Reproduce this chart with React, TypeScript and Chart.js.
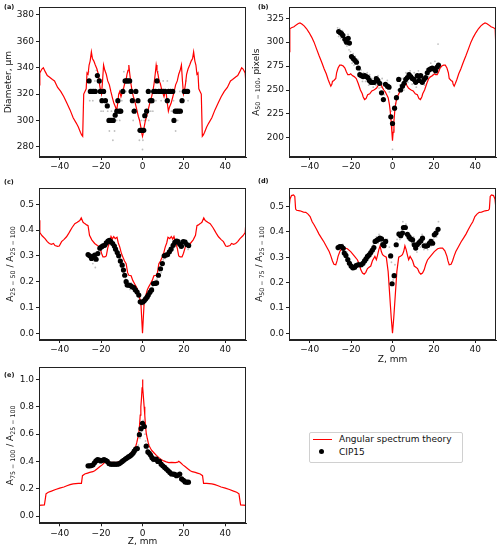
import React, { useEffect, useRef } from "react";
import { Chart, registerables } from "chart.js";
Chart.register(...registerables);

type Pt = [number, number];
type Seg = [string, number]; // text, 1 = subscript
const FONT = "'DejaVu Sans', sans-serif";

// ---------- ticks ----------
const zTicks = [-40, -20, 0, 20, 40];
const aYTicks = [280, 300, 320, 340, 360, 380];
const bYTicks = [200, 225, 250, 275, 300, 325];
const cYTicks = [0, 0.1, 0.2, 0.3, 0.4, 0.5];
const dYTicks = [0, 0.1, 0.2, 0.3, 0.4, 0.5];
const eYTicks = [0, 0.2, 0.4, 0.6, 0.8, 1.0];

// ---------- axis titles ----------
const aYTitle: Seg[] = [["Diameter, \u00b5m", 0]];
const bYTitle: Seg[] = [["A", 0], ["50 \u2212 100", 1], [", pixels", 0]];
const cYTitle: Seg[] = [["A", 0], ["25 \u2212 50", 1], [" / A", 0], ["25 \u2212 100", 1]];
const dYTitle: Seg[] = [["A", 0], ["50 \u2212 75", 1], [" / A", 0], ["25 \u2212 100", 1]];
const eYTitle: Seg[] = [["A", 0], ["75 \u2212 100", 1], [" / A", 0], ["25 \u2212 100", 1]];

// ---------- (a) Diameter ----------
const aTheory: Pt[] = [
  [-50, 327], [-49.6, 336], [-48.6, 339], [-47.9, 340], [-47, 337], [-46, 334], [-45, 333], [-43.5, 331], [-42.5, 330],
  [-41, 325], [-39.5, 322], [-38, 318], [-36.5, 313], [-35, 308], [-33.5, 302], [-32, 298], [-31, 295], [-30, 291],
  [-29.4, 289], [-28.9, 288], [-28.4, 320], [-27.8, 322], [-27.2, 324], [-26.8, 336], [-26.3, 335], [-25.8, 342],
  [-25.3, 345], [-24.7, 352], [-24.2, 347], [-23.5, 345], [-22.8, 342], [-22, 339], [-21.3, 335], [-20.8, 328],
  [-20.2, 322], [-19.8, 320], [-19.3, 330], [-18.8, 342], [-18.2, 338], [-17.5, 335], [-16.8, 330], [-16, 327],
  [-15.3, 322], [-14.5, 317], [-13.8, 313], [-13, 310], [-12.5, 307], [-12, 313], [-11.5, 320], [-11, 322], [-10.4, 318],
  [-9.8, 321], [-9.2, 324], [-8.6, 328], [-8, 330], [-7.5, 335], [-7, 338], [-6.6, 342], [-6.2, 336], [-5.6, 328],
  [-5, 322], [-4.4, 318], [-3.8, 315], [-3.2, 311], [-2.6, 307], [-2, 303], [-1.4, 300], [-0.8, 295], [-0.3, 290], [0, 288],
  [0.3, 290], [0.8, 295], [1.4, 300], [2, 303], [2.6, 307], [3.2, 311], [3.8, 315], [4.4, 318], [5, 322], [5.6, 328],
  [6.2, 336], [6.6, 342], [7, 338], [7.5, 335], [8, 330], [8.6, 328], [9.2, 324], [9.8, 321], [10.4, 318], [11, 322],
  [11.5, 320], [12, 313], [12.5, 307], [13, 310], [13.8, 313], [14.5, 317], [15.3, 322], [16, 327], [16.8, 330],
  [17.5, 335], [18.2, 338], [18.8, 342], [19.3, 330], [19.8, 320], [20.2, 322], [20.8, 328], [21.3, 335], [22, 339],
  [22.8, 342], [23.5, 345], [24.2, 347], [24.7, 352], [25.3, 345], [25.8, 342], [26.3, 335], [26.8, 336], [27.2, 324],
  [27.8, 322], [28.4, 320], [28.9, 288], [29.4, 289], [30, 291], [31, 295], [32, 298], [33.5, 302], [35, 308],
  [36.5, 313], [38, 318], [39.5, 322], [41, 325], [42.5, 330], [43.5, 331], [45, 333], [46, 334], [47, 337],
  [47.9, 340], [48.6, 339], [49.6, 336], [50, 327],
];
const aDots: Pt[] = [
  [-25.8, 330], [-25.2, 322], [-24.4, 322], [-23.6, 322], [-22.8, 322], [-21.8, 334], [-20.9, 330], [-20.4, 322],
  [-19.6, 315], [-18.8, 322], [-17.9, 315], [-17.0, 311], [-16.2, 300], [-15.5, 300], [-14.8, 300], [-14.1, 300],
  [-13.2, 304], [-12.4, 307], [-11.9, 315], [-11.2, 307], [-10.5, 307], [-9.5, 322], [-8.4, 330], [-7.7, 330],
  [-7.0, 330], [-6.2, 330], [-5.5, 322], [-4.9, 315], [-4.0, 307], [-3.2, 322], [-2.2, 315], [-1.2, 292.5],
  [-0.6, 292.5], [0, 292.5], [0.6, 292.5], [1.1, 303.6], [2.0, 307], [2.8, 322], [3.8, 315], [4.6, 315], [5.4, 322],
  [6.3, 322], [7.0, 330], [7.8, 322], [8.6, 322], [9.4, 322], [10.2, 322], [11.0, 322], [12.0, 315], [12.6, 322],
  [13.6, 322], [14.6, 322], [15.2, 300], [15.8, 307], [16.6, 307], [17.4, 307], [18.3, 307], [19.1, 315], [20.2, 322],
  [21.0, 322], [21.8, 322],
];
const aRaw: Pt[] = [
  [-26, 337], [-25.5, 315], [-24, 315], [-23, 330], [-22.3, 338], [-21.5, 322], [-20, 307], [-19, 307], [-18, 322],
  [-16.8, 307], [-16, 292], [-15, 307], [-14.3, 285], [-13.5, 292], [-12.5, 300], [-11, 300], [-10, 315], [-9, 337],
  [-8, 322], [-7, 337], [-6, 322], [-5, 307], [-4.5, 300], [-3.5, 315], [-2.5, 307], [-1.5, 285], [-0.5, 300], [0, 278],
  [0.2, 285], [0.8, 300], [1.5, 300], [2.5, 315], [3, 300], [4, 307], [5, 307], [6, 330], [6.5, 315], [7.5, 337],
  [8.2, 330], [9, 315], [10, 330], [11, 315], [12, 330], [13, 315], [14, 307], [15, 315], [16, 292], [17, 300],
  [18, 322], [19, 307], [20, 315], [21, 330], [22, 315],
];

// ---------- (b) A50-100 ----------
const bTheory: Pt[] = [
  [-50, 290], [-49.6, 314], [-48.8, 315], [-47.6, 316], [-46.5, 318], [-45.5, 319.5], [-44.7, 320], [-43.8, 319],
  [-42.7, 317], [-41.5, 314], [-40.3, 310], [-39, 305], [-37.9, 300], [-36.7, 293], [-35.5, 286], [-34.2, 279],
  [-33, 272], [-32, 267], [-31.1, 261], [-30.4, 257], [-29.8, 254], [-29.3, 256], [-29, 259], [-28.3, 260],
  [-27.4, 262], [-27, 268], [-26.3, 273], [-25.5, 276], [-24.7, 276], [-23.8, 275], [-23, 273], [-22.3, 269],
  [-21.6, 266], [-20.8, 266], [-20.2, 267], [-19.4, 265], [-18.5, 264], [-17.5, 262], [-16.6, 257], [-15.5, 250],
  [-14.6, 246], [-14.2, 243], [-13.5, 240], [-12.8, 241], [-12, 245], [-11, 246], [-10, 249], [-9, 250], [-8.3, 251],
  [-7.7, 252], [-6.9, 255], [-6.1, 259], [-5.5, 256], [-5, 253], [-4.2, 250], [-3.5, 248], [-2.8, 245], [-2.1, 242],
  [-1.5, 235], [-1.1, 228], [-0.7, 218], [-0.3, 206], [0, 197],
  [0.3, 206], [0.7, 218], [1.1, 228], [1.5, 235], [2.1, 242], [2.8, 245], [3.5, 248], [4.2, 250], [5, 253], [5.5, 256],
  [6.1, 259], [6.9, 255], [7.7, 252], [8.3, 251], [9, 250], [10, 249], [11, 246], [12, 245], [12.8, 241], [13.5, 240],
  [14.2, 243], [14.6, 246], [15.5, 250], [16.6, 257], [17.5, 262], [18.5, 264], [19.4, 265], [20.2, 267], [20.8, 266],
  [21.6, 266], [22.3, 269], [23, 273], [23.8, 275], [24.7, 276], [25.5, 276], [26.3, 273], [27, 268], [27.4, 262],
  [28.3, 260], [29, 259], [29.3, 256], [29.8, 254], [30.4, 257], [31.1, 261], [32, 267], [33, 272], [34.2, 279],
  [35.5, 286], [36.7, 293], [37.9, 300], [39, 305], [40.3, 310], [41.5, 314], [42.7, 317], [43.8, 319], [44.7, 320],
  [45.5, 319.5], [46.5, 318], [47.6, 316], [48.8, 315], [49.6, 314], [50, 290],
];
const bDots: Pt[] = [
  [-26, 311], [-25.3, 310], [-24.6, 309], [-24, 307], [-23, 303], [-22.2, 300], [-21.4, 304], [-20.8, 299], [-19.8, 285],
  [-19, 283], [-18.2, 281], [-17.4, 279], [-16.5, 273], [-15.8, 266], [-15, 265], [-14.2, 264], [-13.4, 265],
  [-12.6, 264], [-11.9, 263], [-11.2, 260], [-10.4, 258], [-9.6, 258], [-8.8, 258], [-7.8, 262], [-7.1, 260],
  [-6.2, 257], [-5.3, 247], [-4.4, 240], [-3.4, 256], [-2.4, 254], [-1.7, 253], [-0.8, 222], [0, 215], [1, 231],
  [1.9, 242], [3, 261], [3.9, 250], [4.8, 254], [5.6, 257], [6.4, 261], [7.2, 263], [8, 266], [8.8, 264], [9.6, 262],
  [10.4, 261], [11.2, 258], [12, 265], [12.8, 260], [13.6, 265], [14.4, 258], [15.2, 261], [16, 263], [16.8, 268],
  [17.6, 271], [18.4, 272], [19.2, 273], [20, 272], [20.8, 270], [21.6, 274], [22.2, 276],
];
const bRaw: Pt[] = [
  [-26.5, 315], [-26, 306], [-25.5, 314], [-25, 304], [-24.2, 312], [-23.5, 300], [-23, 308], [-22, 296], [-21.5, 308],
  [-21, 292], [-20.3, 290], [-19.5, 278], [-19, 288], [-18.6, 276], [-18, 285], [-17.2, 274], [-16.8, 282], [-16, 270],
  [-15.2, 271], [-14.5, 259], [-14, 268], [-13, 259], [-12.2, 268], [-11.5, 255], [-11, 266], [-10, 262], [-9.3, 253],
  [-8.5, 264], [-8, 255], [-7, 265], [-6.5, 252], [-5.5, 253], [-5, 262], [-4, 245], [-3, 252], [-2.5, 260],
  [-1.5, 248], [-0.5, 228], [0, 188], [0.5, 208], [1.5, 236], [2.5, 250], [3.5, 255], [4.5, 262], [5.5, 250],
  [6.5, 268], [7.5, 258], [8.5, 270], [9.5, 256], [10.5, 268], [11.5, 253], [12.5, 270], [13.5, 257], [14.5, 266],
  [15.5, 255], [16.5, 272], [17.5, 264], [18.5, 278], [19.5, 266], [20.5, 280], [21.5, 268], [22, 298],
];

// ---------- (c) A25-50 / A25-100 ----------
const cTheory: Pt[] = [
  [-50, 0.438], [-49.6, 0.39], [-48.5, 0.378], [-47.1, 0.367], [-46, 0.355], [-45, 0.348], [-44, 0.345], [-43, 0.348],
  [-42.3, 0.34], [-41, 0.337], [-40.2, 0.338], [-39.1, 0.355], [-38, 0.363], [-36.7, 0.374], [-35.8, 0.385],
  [-35.1, 0.395], [-34, 0.41], [-32.7, 0.425], [-31.5, 0.43], [-30.3, 0.437], [-29.6, 0.447], [-28.7, 0.43],
  [-27.9, 0.425], [-27, 0.42], [-26.3, 0.417], [-25.6, 0.38], [-24.5, 0.362], [-23.1, 0.348], [-21.8, 0.34],
  [-20.7, 0.335], [-19.8, 0.31], [-19.1, 0.296], [-18.2, 0.296], [-17.5, 0.3], [-16.8, 0.33], [-15.9, 0.354],
  [-15.2, 0.375], [-14.6, 0.365], [-13.9, 0.375], [-13.2, 0.367], [-12.3, 0.372], [-11.7, 0.35], [-11, 0.335],
  [-10.2, 0.31], [-9.5, 0.296], [-8.7, 0.28], [-7.9, 0.27], [-7.2, 0.235], [-6.6, 0.225], [-5.5, 0.223], [-4.7, 0.205],
  [-3.9, 0.193], [-3, 0.18], [-2.3, 0.168], [-1.7, 0.15], [-1.2, 0.13], [-0.8, 0.12], [0, 0],
  [0.8, 0.12], [1.2, 0.13], [1.7, 0.15], [2.3, 0.168], [3, 0.18], [3.9, 0.193], [4.7, 0.205], [5.5, 0.223],
  [6.6, 0.225], [7.2, 0.235], [7.9, 0.27], [8.7, 0.28], [9.5, 0.296], [10.2, 0.31], [11, 0.335], [11.7, 0.35],
  [12.3, 0.372], [13.2, 0.367], [13.9, 0.375], [14.6, 0.365], [15.2, 0.375], [15.9, 0.354], [16.8, 0.33], [17.5, 0.3],
  [18.2, 0.296], [19.1, 0.296], [19.8, 0.31], [20.7, 0.335], [21.8, 0.34], [23.1, 0.348], [24.5, 0.362], [25.6, 0.38],
  [26.3, 0.417], [27, 0.42], [27.9, 0.425], [28.7, 0.43], [29.6, 0.447], [30.3, 0.437], [31.5, 0.43], [32.7, 0.425],
  [34, 0.41], [35.1, 0.395], [35.8, 0.385], [36.7, 0.374], [38, 0.363], [39.1, 0.355], [40.2, 0.338], [41, 0.337],
  [42.3, 0.34], [43, 0.348], [44, 0.345], [45, 0.348], [46, 0.355], [47.1, 0.367], [48.5, 0.378], [49.6, 0.39],
  [50, 0.438],
];
const cDots: Pt[] = [
  [-26.3, 0.305], [-25.5, 0.3], [-24.6, 0.29], [-23.8, 0.298], [-23.1, 0.303], [-22.4, 0.287], [-21.6, 0.309],
  [-20.6, 0.33], [-19.8, 0.335], [-19.1, 0.339], [-18.3, 0.341], [-17.5, 0.35], [-16.7, 0.357], [-16, 0.36],
  [-15.3, 0.355], [-14.4, 0.348], [-13.6, 0.338], [-13, 0.326], [-12.2, 0.313], [-11.5, 0.3], [-10.7, 0.28],
  [-9.8, 0.264], [-9.2, 0.245], [-8.6, 0.225], [-7.9, 0.2], [-7.4, 0.187], [-6.6, 0.187], [-5.8, 0.185], [-5, 0.18],
  [-4.2, 0.177], [-3.4, 0.168], [-2.6, 0.16], [-1.8, 0.148], [-1.1, 0.122], [-0.4, 0.12], [0.3, 0.122], [0.9, 0.127],
  [1.5, 0.133], [2.2, 0.14], [2.8, 0.148], [3.6, 0.159], [4.4, 0.168], [5.3, 0.193], [6.1, 0.193], [6.8, 0.195],
  [7.7, 0.225], [8.7, 0.25], [9.6, 0.27], [10.5, 0.3], [11.3, 0.303], [12.1, 0.305], [13, 0.316], [13.8, 0.326],
  [14.8, 0.341], [15.6, 0.352], [16.4, 0.357], [17.2, 0.355], [18, 0.345], [18.8, 0.337], [19.7, 0.355],
  [20.6, 0.353], [21.4, 0.344], [22.3, 0.34],
];
const cRaw: Pt[] = [
  [-26, 0.31], [-25.2, 0.285], [-24.5, 0.3], [-24, 0.27], [-23.3, 0.28], [-22.8, 0.255], [-22, 0.3], [-21, 0.315],
  [-20, 0.32], [-19, 0.33], [-18, 0.35], [-17, 0.34], [-16, 0.345], [-15, 0.365], [-14, 0.33], [-13, 0.34], [-12, 0.3],
  [-11, 0.29], [-10, 0.25], [-9.5, 0.27], [-8.2, 0.21], [-7, 0.2], [-6, 0.17], [-5.5, 0.195], [-4.5, 0.165],
  [-3.5, 0.18], [-2.5, 0.15], [-1.5, 0.135], [-0.8, 0.11], [0.5, 0.11], [1.2, 0.14], [2, 0.13], [3, 0.165], [4, 0.15],
  [5, 0.18], [6, 0.205], [7, 0.21], [8, 0.24], [9, 0.235], [10, 0.285], [11, 0.29], [12, 0.315], [13, 0.3],
  [14, 0.335], [15, 0.33], [16, 0.345], [17, 0.365], [18, 0.33], [19, 0.345], [20, 0.34], [21, 0.36], [22, 0.325],
  [22.5, 0.35],
];

// ---------- (d) A50-75 / A25-100 ----------
const dTheory: Pt[] = [
  [-50, 0.49], [-49.5, 0.53], [-48.8, 0.543], [-47.8, 0.546], [-47.2, 0.54], [-46.8, 0.49], [-46.3, 0.485],
  [-44.7, 0.483], [-43, 0.478], [-41.9, 0.477], [-40.8, 0.47], [-39.8, 0.46], [-38.8, 0.44], [-37.9, 0.428],
  [-36.7, 0.41], [-35.5, 0.391], [-34.3, 0.375], [-33.1, 0.36], [-31.8, 0.34], [-30.6, 0.322], [-29.8, 0.305],
  [-29, 0.285], [-28.3, 0.272], [-27.4, 0.27], [-26.8, 0.285], [-26.3, 0.303], [-25.3, 0.325], [-24.2, 0.336],
  [-23, 0.336], [-21.8, 0.333], [-20.2, 0.322], [-18.5, 0.305], [-16.9, 0.289], [-16, 0.27], [-15.3, 0.25],
  [-14.5, 0.237], [-13.7, 0.233], [-12.9, 0.24], [-12.1, 0.255], [-11.3, 0.26], [-10.5, 0.265], [-9.7, 0.286],
  [-8.5, 0.303], [-7.8, 0.29], [-7.3, 0.305], [-6.6, 0.33], [-6, 0.345], [-5.4, 0.322], [-4.8, 0.31], [-4, 0.305],
  [-3, 0.3], [-2.1, 0.243], [-1.3, 0.145], [-0.6, 0.06], [0, 0],
  [0.6, 0.06], [1.3, 0.145], [2.1, 0.243], [3, 0.3], [4, 0.305], [4.8, 0.31], [5.4, 0.322], [6, 0.345], [6.6, 0.33],
  [7.3, 0.305], [7.8, 0.29], [8.5, 0.303], [9.7, 0.286], [10.5, 0.265], [11.3, 0.26], [12.1, 0.255], [12.9, 0.24],
  [13.7, 0.233], [14.5, 0.237], [15.3, 0.25], [16, 0.27], [16.9, 0.289], [18.5, 0.305], [20.2, 0.322], [21.8, 0.333],
  [23, 0.336], [24.2, 0.336], [25.3, 0.325], [26.3, 0.303], [26.8, 0.285], [27.4, 0.27], [28.3, 0.272], [29, 0.285],
  [29.8, 0.305], [30.6, 0.322], [31.8, 0.34], [33.1, 0.36], [34.3, 0.375], [35.5, 0.391], [36.7, 0.41],
  [37.9, 0.428], [38.8, 0.44], [39.8, 0.46], [40.8, 0.47], [41.9, 0.477], [43, 0.478], [44.7, 0.483], [46.3, 0.485],
  [46.8, 0.49], [47.2, 0.54], [47.8, 0.546], [48.8, 0.543], [49.5, 0.53], [50, 0.49],
];
const dDots: Pt[] = [
  [-26.3, 0.338], [-25.5, 0.342], [-24.6, 0.342], [-23.8, 0.335], [-23.3, 0.316], [-22.5, 0.307], [-21.6, 0.29],
  [-20.8, 0.276], [-20, 0.265], [-19.2, 0.258], [-18.3, 0.26], [-17.6, 0.267], [-16.7, 0.27], [-15.9, 0.27],
  [-15.1, 0.27], [-14.3, 0.276], [-13.5, 0.285], [-12.8, 0.293], [-12.1, 0.303], [-11.3, 0.309], [-10.5, 0.318],
  [-9.7, 0.328], [-9, 0.338], [-8.4, 0.362], [-7.6, 0.366], [-6.9, 0.37], [-6.1, 0.375], [-5.3, 0.372], [-4.7, 0.35],
  [-4.1, 0.345], [-3.3, 0.362], [-0.9, 0.305], [-0.2, 0.195], [0.8, 0.227], [1.8, 0.349], [3.1, 0.391], [4, 0.385],
  [4.8, 0.395], [5.3, 0.417], [6.2, 0.417], [7.2, 0.39], [8, 0.38], [8.8, 0.372], [9.7, 0.368], [10.5, 0.349],
  [11.2, 0.336], [12, 0.35], [12.8, 0.357], [13.7, 0.364], [14.5, 0.375], [15.3, 0.345], [16.2, 0.343], [17, 0.346],
  [17.8, 0.355], [18.6, 0.362], [19.4, 0.355], [20.2, 0.388], [21, 0.395], [22, 0.41],
];
const dRaw: Pt[] = [
  [-26.5, 0.33], [-25.8, 0.345], [-25, 0.33], [-24, 0.35], [-23.5, 0.33], [-23, 0.3], [-22, 0.32], [-21.2, 0.28],
  [-20.5, 0.26], [-19.5, 0.27], [-18.5, 0.25], [-17.5, 0.255], [-16.5, 0.28], [-15.5, 0.26], [-14.5, 0.285],
  [-13.5, 0.27], [-12.5, 0.3], [-11.5, 0.295], [-10.8, 0.33], [-10, 0.31], [-9.2, 0.35], [-8.5, 0.33], [-7.8, 0.38],
  [-7, 0.355], [-6.5, 0.39], [-5.5, 0.36], [-4.5, 0.365], [-3.5, 0.34], [-2.5, 0.37], [-1.5, 0.34], [-0.5, 0.28],
  [0.3, 0.21], [1.2, 0.27], [2.2, 0.37], [2.8, 0.4], [3.6, 0.37], [4.3, 0.41], [5, 0.44], [5.8, 0.4], [6.5, 0.43],
  [7.5, 0.37], [8.5, 0.39], [9.3, 0.355], [10.2, 0.38], [11, 0.35], [11.8, 0.32], [12.8, 0.37], [13.5, 0.34],
  [14.3, 0.39], [15.2, 0.33], [16, 0.355], [17, 0.33], [18, 0.37], [18.8, 0.345], [19.8, 0.37], [20.5, 0.4],
  [21.3, 0.38], [22.2, 0.44],
];

// ---------- (e) A75-100 / A25-100 ----------
const eTheory: Pt[] = [
  [-50, 0.079], [-47.4, 0.082], [-47, 0.12], [-46.6, 0.163], [-45.5, 0.175], [-44, 0.183], [-42, 0.195], [-40, 0.205],
  [-38, 0.213], [-36.5, 0.222], [-35, 0.23], [-33.5, 0.236], [-31, 0.24], [-29.5, 0.24], [-29, 0.296], [-27.9, 0.308],
  [-26.5, 0.315], [-25.5, 0.32], [-24, 0.325], [-23.1, 0.332], [-22, 0.345], [-20.7, 0.361], [-19.5, 0.375],
  [-18.3, 0.392], [-17.5, 0.402], [-17, 0.395], [-15.9, 0.392], [-14, 0.393], [-12.7, 0.392], [-11.5, 0.397],
  [-10.3, 0.404], [-9, 0.415], [-7.9, 0.428], [-6.7, 0.445], [-5.5, 0.464], [-4.5, 0.48], [-3.9, 0.495],
  [-3.2, 0.515], [-2.8, 0.536], [-2.3, 0.57], [-1.8, 0.608], [-1.4, 0.67], [-1.1, 0.74], [-0.8, 0.8], [-0.5, 0.86],
  [-0.2, 0.94], [0, 1.0],
  [0.2, 0.94], [0.5, 0.86], [0.8, 0.8], [1.1, 0.74], [1.4, 0.67], [1.8, 0.608], [2.3, 0.57], [2.8, 0.536],
  [3.2, 0.515], [3.9, 0.495], [4.5, 0.48], [5.5, 0.464], [6.7, 0.445], [7.9, 0.428], [9, 0.415], [10.3, 0.404],
  [11.5, 0.397], [12.7, 0.392], [14, 0.393], [15.9, 0.392], [17, 0.395], [17.5, 0.402], [18.3, 0.392], [19.5, 0.375],
  [20.7, 0.361], [22, 0.345], [23.1, 0.332], [24, 0.325], [25.5, 0.32], [26.5, 0.315], [27.9, 0.308], [29, 0.296],
  [29.5, 0.24], [31, 0.24], [33.5, 0.236], [35, 0.23], [36.5, 0.222], [38, 0.213], [40, 0.205], [42, 0.195],
  [44, 0.183], [45.5, 0.175], [46.6, 0.163], [47, 0.12], [47.4, 0.082], [50, 0.079],
];
const eDots: Pt[] = [
  [-26.3, 0.368], [-25.5, 0.368], [-24.7, 0.37], [-23.9, 0.375], [-23.2, 0.39], [-22.5, 0.404], [-21.7, 0.413],
  [-20.9, 0.41], [-20.2, 0.404], [-19.4, 0.409], [-18.6, 0.413], [-17.8, 0.408], [-17, 0.4], [-16.2, 0.385],
  [-15.4, 0.38], [-14.6, 0.38], [-13.8, 0.38], [-13, 0.38], [-12.2, 0.38], [-11.4, 0.383], [-10.6, 0.39],
  [-9.8, 0.4], [-9.1, 0.409], [-8.3, 0.418], [-7.6, 0.425], [-6.8, 0.433], [-6.1, 0.44], [-5.4, 0.448],
  [-4.6, 0.46], [-4, 0.475], [-3.3, 0.49], [-2.5, 0.495], [-1.5, 0.596], [-0.7, 0.64], [0, 0.68], [0.9, 0.656],
  [1.8, 0.512], [2.6, 0.47], [3.3, 0.46], [3.9, 0.447], [4.6, 0.428], [5.3, 0.416], [6, 0.416], [6.7, 0.418],
  [7.4, 0.4], [8.2, 0.4], [9, 0.38], [9.8, 0.368], [10.7, 0.356], [11.5, 0.344], [12.4, 0.332], [13.2, 0.32],
  [14, 0.308], [14.8, 0.308], [15.6, 0.305], [16.4, 0.296], [17.2, 0.3], [18, 0.308], [18.9, 0.272], [19.8, 0.262],
  [20.6, 0.25], [21.4, 0.248], [22.2, 0.248],
];
const eRaw: Pt[] = [
  [-26.5, 0.36], [-26, 0.375], [-25, 0.36], [-24, 0.385], [-23, 0.38], [-22, 0.42], [-21.3, 0.4], [-20.5, 0.42],
  [-19.7, 0.395], [-18.8, 0.42], [-18, 0.4], [-17.3, 0.39], [-16.5, 0.375], [-15.8, 0.39], [-15, 0.37], [-14, 0.39],
  [-13.2, 0.37], [-12.5, 0.39], [-11.8, 0.375], [-11, 0.395], [-10.2, 0.385], [-9.5, 0.415], [-8.7, 0.4], [-8, 0.43],
  [-7.2, 0.415], [-6.4, 0.445], [-5.8, 0.425], [-5, 0.455], [-4.3, 0.48], [-3.6, 0.47], [-2.8, 0.51], [-2, 0.52],
  [-1.2, 0.57], [-0.4, 0.62], [0.4, 0.7], [1.2, 0.6], [1.5, 0.55], [2.2, 0.49], [3, 0.48], [3.6, 0.43], [4.3, 0.44],
  [5, 0.4], [5.7, 0.43], [6.4, 0.4], [7.1, 0.42], [7.8, 0.39], [8.6, 0.39], [9.4, 0.37], [10.3, 0.37], [11.1, 0.35],
  [12, 0.335], [12.8, 0.345], [13.6, 0.32], [14.4, 0.3], [15.2, 0.32], [16, 0.29], [16.8, 0.31], [17.6, 0.295],
  [18.4, 0.31], [19.3, 0.28], [20.2, 0.255], [21, 0.26], [21.8, 0.24],
];

const toXY = (arr: Pt[]) => arr.map(([x, y]) => ({ x, y }));

const framePlugin = {
  id: "frame",
  afterDatasetsDraw(chart: any) {
    const { ctx, chartArea: a } = chart;
    ctx.save();
    ctx.strokeStyle = "#222";
    ctx.lineWidth = 1;
    ctx.strokeRect(Math.round(a.left) + 0.5, Math.round(a.top) + 0.5, Math.round(a.right - a.left) - 1, Math.round(a.bottom - a.top) - 1);
    ctx.restore();
  },
};

const MAIN_SIZE = 9;
const SUB_SIZE = 6.3;
const SUB_DROP = 2.2;

function makeYTitlePlugin(segs: Seg[], centerX: number) {
  return {
    id: "ytitle",
    afterDraw(chart: any) {
      const { ctx, chartArea: a } = chart;
      const cy = (a.top + a.bottom) / 2;
      ctx.save();
      ctx.fillStyle = "#111";
      ctx.textBaseline = "middle";
      ctx.textAlign = "left";
      const widths = segs.map(([t, sub]) => {
        ctx.font = `${sub ? SUB_SIZE : MAIN_SIZE}px ${FONT}`;
        return ctx.measureText(t).width;
      });
      const total = widths.reduce((s, w) => s + w, 0);
      ctx.translate(centerX, cy);
      ctx.rotate(-Math.PI / 2);
      let x = -total / 2;
      segs.forEach(([t, sub], i) => {
        ctx.font = `${sub ? SUB_SIZE : MAIN_SIZE}px ${FONT}`;
        ctx.fillText(t, x, sub ? SUB_DROP : 0);
        x += widths[i];
      });
      ctx.restore();
    },
  };
}

interface PanelProps {
  left: number; top: number; width: number; height: number;
  padTop: number; padRight: number; yWidth: number; xHeight: number;
  yMin: number; yMax: number; yTicks: number[]; yDec: number;
  yTitle: Seg[]; yTitleX: number; xTitle?: string; xTitlePad?: number;
  theory: Pt[]; dots: Pt[]; raw: Pt[];
}

function Panel(p: PanelProps) {
  const ref = useRef<HTMLCanvasElement | null>(null);
  useEffect(() => {
    if (!ref.current) return;
    const fmtZ = (v: number) => (v < 0 ? "\u2212" + Math.abs(v) : String(v));
    const chart = new Chart(ref.current, {
      type: "scatter",
      data: {
        datasets: [
          { label: "CIP15", data: toXY(p.dots), pointRadius: 2.6, pointBackgroundColor: "#000", pointBorderWidth: 0, showLine: false, order: 0 } as any,
          { label: "Angular spectrum theory", data: toXY(p.theory), showLine: true, borderColor: "#ff0000", borderWidth: 1.2, pointRadius: 0, tension: 0, order: 1 } as any,
          { label: "raw", data: toXY(p.raw), pointRadius: 0.9, pointBackgroundColor: "rgba(140,140,140,0.55)", pointBorderWidth: 0, showLine: false, order: 2 } as any,
        ],
      },
      options: {
        responsive: false,
        animation: false,
        devicePixelRatio: 1,
        events: [],
        layout: { padding: { left: 0, top: p.padTop, right: p.padRight, bottom: 0 } },
        plugins: { legend: { display: false }, tooltip: { enabled: false } },
        scales: {
          x: {
            type: "linear",
            min: -50,
            max: 50,
            afterBuildTicks: (s: any) => { s.ticks = zTicks.map((v) => ({ value: v })); },
            afterFit: (s: any) => { s.height = p.xHeight; },
            ticks: { callback: (v: any) => fmtZ(Number(v)), color: "#111", font: { size: 9, family: FONT }, padding: 1.5, autoSkip: false, maxRotation: 0 },
            grid: { drawOnChartArea: false, drawTicks: true, tickLength: 3, color: "#222" },
            border: { display: true, color: "#222" },
            title: { display: !!p.xTitle, text: p.xTitle || "", color: "#111", font: { size: 9, family: FONT }, padding: { top: 0, bottom: p.xTitlePad || 0 } },
          },
          y: {
            type: "linear",
            min: p.yMin,
            max: p.yMax,
            afterBuildTicks: (s: any) => { s.ticks = p.yTicks.map((v) => ({ value: v })); },
            afterFit: (s: any) => { s.width = p.yWidth; },
            ticks: { callback: (v: any) => Number(v).toFixed(p.yDec), color: "#111", font: { size: 9, family: FONT }, padding: 2, autoSkip: false },
            grid: { drawOnChartArea: false, drawTicks: true, tickLength: 3, color: "#222" },
            border: { display: true, color: "#222" },
            title: { display: false },
          },
        },
      } as any,
      plugins: [framePlugin, makeYTitlePlugin(p.yTitle, p.yTitleX)],
    });
    return () => chart.destroy();
  }, []);
  return (
    <canvas
      ref={ref}
      width={p.width}
      height={p.height}
      style={{ position: "absolute", left: p.left, top: p.top, width: p.width, height: p.height }}
    />
  );
}

const labelStyle = (left: number, top: number): React.CSSProperties => ({
  position: "absolute", left, top, fontFamily: FONT, fontWeight: "bold", fontSize: 6.5, lineHeight: "7px", color: "#111",
});
const legendText = (top: number): React.CSSProperties => ({
  position: "absolute", left: 339, top, fontFamily: FONT, fontSize: 9, lineHeight: "10px", color: "#111", whiteSpace: "nowrap",
});

export default function App() {
  return (
    <div style={{ position: "fixed", left: 0, top: 0, width: 500, height: 553, background: "#fff", overflow: "hidden" }}>
      <Panel left={0} top={0} width={250} height={175} padTop={5} padRight={3} yWidth={39} xHeight={18}
        yMin={272.3} yMax={385.7} yTicks={aYTicks} yDec={0} yTitle={aYTitle} yTitleX={8.7}
        theory={aTheory} dots={aDots} raw={aRaw} />
      <Panel left={250} top={0} width={250} height={175} padTop={5} padRight={3} yWidth={39} xHeight={18}
        yMin={180} yMax={336.3} yTicks={bYTicks} yDec={0} yTitle={bYTitle} yTitleX={6.5}
        theory={bTheory} dots={bDots} raw={bRaw} />
      <Panel left={0} top={175} width={250} height={185} padTop={13} padRight={3} yWidth={39} xHeight={20}
        yMin={-0.026} yMax={0.563} yTicks={cYTicks} yDec={1} yTitle={cYTitle} yTitleX={10.8}
        theory={cTheory} dots={cDots} raw={cRaw} />
      <Panel left={250} top={175} width={250} height={195} padTop={13} padRight={3} yWidth={39} xHeight={30}
        yMin={-0.027} yMax={0.573} yTicks={dYTicks} yDec={1} yTitle={dYTitle} yTitleX={9.8}
        xTitle="Z, mm" xTitlePad={4.6}
        theory={dTheory} dots={dDots} raw={dRaw} />
      <Panel left={0} top={360} width={250} height={193} padTop={5} padRight={3} yWidth={39} xHeight={29.7}
        yMin={-0.053} yMax={1.089} yTicks={eYTicks} yDec={1} yTitle={eYTitle} yTitleX={11}
        xTitle="Z, mm" xTitlePad={5.9}
        theory={eTheory} dots={eDots} raw={eRaw} />

      <div style={labelStyle(4, 3.5)}>(a)</div>
      <div style={labelStyle(258, 3.5)}>(b)</div>
      <div style={labelStyle(4, 178.5)}>(c)</div>
      <div style={labelStyle(258, 177.5)}>(d)</div>
      <div style={labelStyle(4, 371.5)}>(e)</div>

      <div style={{ position: "absolute", left: 309, top: 432, width: 152, height: 29, border: "1px solid #d0d0d0", borderRadius: 2, background: "#fff" }} />
      <div style={{ position: "absolute", left: 313, top: 438.5, width: 19, height: 1.3, background: "#ff0000" }} />
      <div style={{ position: "absolute", left: 319.2, top: 449.2, width: 5, height: 5, borderRadius: "50%", background: "#000" }} />
      <div style={legendText(434)}>Angular spectrum theory</div>
      <div style={legendText(446.7)}>CIP15</div>
    </div>
  );
}
